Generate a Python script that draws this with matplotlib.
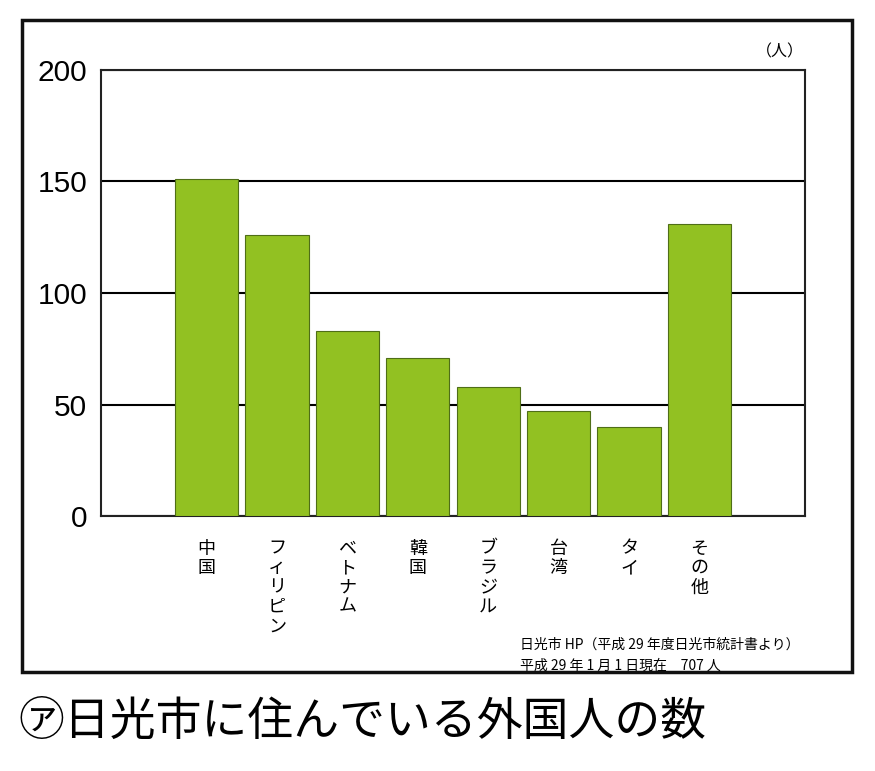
import matplotlib
matplotlib.use('Agg')
import matplotlib.pyplot as plt
from matplotlib.patches import Rectangle

# data
countries = ['中国', 'フィリピン', 'ベトナム', '韓国', 'ブラジル', '台湾', 'タイ', 'その他']
residents = [151, 126, 83, 71, 58, 47, 40, 131]
yticks = [0, 50, 100, 150, 200]

jp = ['Noto Sans CJK JP', 'DejaVu Sans']
plt.rcParams['font.family'] = jp

fig = plt.figure(figsize=(8.75, 7.71), dpi=100)

# outer frame
fig.patches.append(Rectangle((22 / 875, 99 / 771), 830 / 875, 652 / 771,
                             transform=fig.transFigure, fill=False,
                             edgecolor='#111111', linewidth=2.5))

ax = fig.add_axes([101 / 875, 255 / 771, 704 / 875, 446 / 771])
x = list(range(len(countries)))
ax.bar(x, residents, width=0.9, color='#92c122', edgecolor='#4f6e17',
       linewidth=0.8, zorder=3)
ax.set_xlim(-1.5, len(countries) + 0.5)
ax.set_ylim(0, 200)
ax.set_yticks(yticks)
ax.set_yticklabels([str(v) for v in yticks], fontsize=21.5, family='Liberation Sans')
ax.yaxis.grid(True, color='black', linewidth=1.5, zorder=0)
ax.set_axisbelow(True)
ax.tick_params(axis='y', length=0, pad=10)
ax.set_xticks(x)
ax.set_xticklabels(['\n'.join(c) for c in countries], fontsize=13,
                   linespacing=1.1, va='top')
ax.tick_params(axis='x', length=0, pad=17)
for s in ax.spines.values():
    s.set_linewidth(1.5)
    s.set_color('#222222')

fig.text(780 / 875, 1 - 52 / 771, '（人）', fontsize=11.5, ha='center', va='center')
fig.text(520 / 875, 1 - 645 / 771, '日光市 HP（平成 29 年度日光市統計書より）',
         fontsize=10, ha='left', va='center')
fig.text(520 / 875, 1 - 666 / 771, '平成 29 年 1 月 1 日現在　707 人',
         fontsize=10, ha='left', va='center')

fig.text(18 / 875, 1 - 722 / 771, '㋐日光市に住んでいる外国人の数',
         fontsize=33, ha='left', va='center', family=jp)

fig.savefig('out.png', dpi=100)
